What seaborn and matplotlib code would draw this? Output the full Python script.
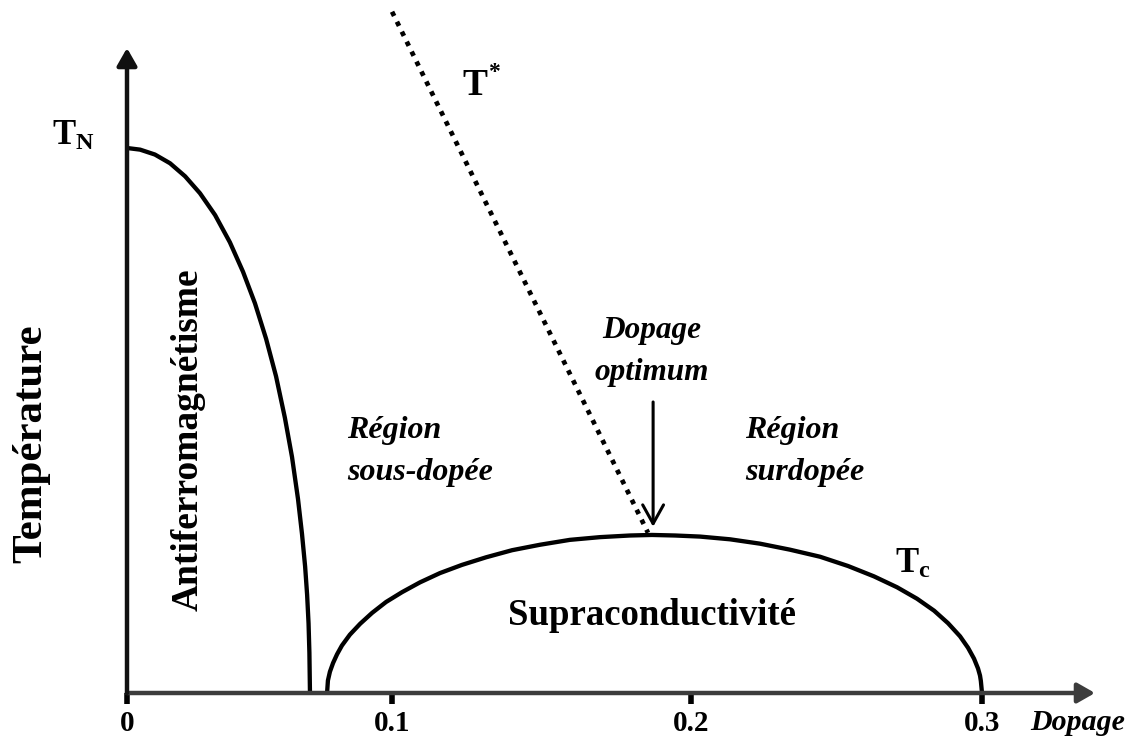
import matplotlib.pyplot as plt
from matplotlib.patches import ArrowStyle
import pandas as pd
import seaborn as sns

# Néel line T_N (antiferromagnetic dome), temperature in units of T_N
af_dopage = [0, 0.0046, 0.0098, 0.0151, 0.0204, 0.0256, 0.0309, 0.0361, 0.0407,
             0.0449, 0.0488, 0.0523, 0.0554, 0.0579, 0.0600, 0.0614, 0.0625,
             0.0632, 0.0637, 0.0640, 0.0642]
af_temp = [1.0, 0.997, 0.988, 0.972, 0.948, 0.917, 0.877, 0.827, 0.773,
           0.715, 0.650, 0.581, 0.505, 0.433, 0.356, 0.292, 0.232,
           0.180, 0.128, 0.074, 0.0]

# superconducting dome T_c
sc_dopage = [0.0702, 0.0705, 0.0712, 0.0723, 0.0737, 0.0754, 0.0782, 0.0818, 0.0860,
             0.0909, 0.0965, 0.1028, 0.1098, 0.1175, 0.1260, 0.1351, 0.1449, 0.1554,
             0.1660, 0.1765, 0.1842, 0.1923, 0.2011, 0.2116, 0.2221, 0.2326, 0.2432,
             0.2530, 0.2621, 0.2702, 0.2772, 0.2832, 0.2881, 0.2923, 0.2951, 0.2972,
             0.2986, 0.2993, 0.2996, 0.3000]
sc_temp = [0.0, 0.023, 0.039, 0.055, 0.071, 0.087, 0.107, 0.127, 0.147,
           0.167, 0.185, 0.203, 0.220, 0.235, 0.249, 0.262, 0.272, 0.281,
           0.286, 0.289, 0.290, 0.289, 0.287, 0.282, 0.274, 0.263, 0.250,
           0.233, 0.214, 0.194, 0.173, 0.151, 0.128, 0.104, 0.083, 0.063,
           0.045, 0.032, 0.022, 0.0]

# pseudogap line T*
tstar_dopage = [0.093, 0.1828]
tstar_temp = [1.250, 0.294]

# optimal doping marker
optimum_dopage = 0.1846
optimum_arrow_temp = [0.534, 0.305]

tick_pos = [0, 0.093, 0.198, 0.3]
tick_labels = ['0', '0.1', '0.2', '0.3']

W, H = 1137, 740


def px(x, y):
    # pixel position -> figure fraction
    return x / W, 1 - y / H


sns.set_theme(style='white')
plt.rcParams['font.family'] = ['Liberation Serif', 'DejaVu Serif']
plt.rcParams['font.weight'] = 'bold'
plt.rcParams['text.color'] = 'black'
plt.rcParams['xtick.color'] = 'black'
plt.rcParams['xtick.labelcolor'] = 'black'
plt.rcParams['mathtext.fontset'] = 'custom'
plt.rcParams['mathtext.rm'] = 'Liberation Serif'
plt.rcParams['mathtext.bf'] = 'Liberation Serif:bold'

fig = plt.figure(figsize=(W / 100, H / 100), dpi=100)
ax = fig.add_axes([127 / W, (H - 693) / H, (1095 - 127) / W, (693 - 48) / H])
ax.set_xlim(0, (1095 - 127) / 2850)
ax.set_ylim(0, (693 - 48) / 545)
for s in ax.spines.values():
    s.set_visible(False)

af_df = pd.DataFrame({'dopage': af_dopage, 'temp': af_temp})
sc_df = pd.DataFrame({'dopage': sc_dopage, 'temp': sc_temp})
ts_df = pd.DataFrame({'dopage': tstar_dopage, 'temp': tstar_temp})

sns.lineplot(data=af_df, x='dopage', y='temp', ax=ax, sort=False, estimator=None,
             color='black', lw=3.1, solid_capstyle='butt')
sns.lineplot(data=sc_df, x='dopage', y='temp', ax=ax, sort=False, estimator=None,
             color='black', lw=3.1, solid_capstyle='butt')
sns.lineplot(data=ts_df, x='dopage', y='temp', ax=ax, sort=False, estimator=None,
             color='black', lw=3.4, linestyle=(0, (1, 1.35)), dash_capstyle='butt',
             clip_on=False)

# arrow pointing to optimal doping
ax.annotate('', xy=(optimum_dopage, optimum_arrow_temp[1]),
            xytext=(optimum_dopage, optimum_arrow_temp[0]),
            arrowprops=dict(arrowstyle=ArrowStyle('->', head_length=0.9, head_width=0.5),
                            mutation_scale=15, lw=2.2, color='black',
                            shrinkA=0, shrinkB=0))

# axes drawn as arrows
head = ArrowStyle('-|>', head_length=0.7, head_width=0.4)
ax.annotate('', xy=(1, 0), xytext=(0, 0), xycoords='axes fraction',
            arrowprops=dict(arrowstyle=head, mutation_scale=15, lw=3.2,
                            color='#3c3c3c', shrinkA=0, shrinkB=0))
ax.annotate('', xy=(0, 1), xytext=(0, 0), xycoords='axes fraction',
            arrowprops=dict(arrowstyle=head, mutation_scale=15, lw=3.2,
                            color='#111111', shrinkA=0, shrinkB=0))

ax.set_xticks(tick_pos, labels=tick_labels)
ax.set_yticks([])
ax.tick_params(axis='x', length=8, width=4, color='black', labelcolor='black',
               direction='out', labelsize=21, pad=4, bottom=True)
ax.set_xlabel('')
ax.set_ylabel('')

# labels
fig.text(*px(52, 145), r'$\mathbf{T_N}$', fontsize=25, ha='left', va='baseline')
fig.text(*px(462, 95), 'T', fontsize=27, ha='left', va='baseline')
fig.text(*px(488, 78), '*', fontsize=17, ha='left', va='baseline')
fig.text(*px(895, 573), r'$\mathbf{T_c}$', fontsize=25, ha='left', va='baseline')
fig.text(*px(31, 444), 'Température', fontsize=31, rotation=90,
         ha='center', va='center')
fig.text(*px(188, 440), 'Antiferromagnétisme', fontsize=27, rotation=90,
         ha='center', va='center')
fig.text(*px(652, 625), 'Supraconductivité', fontsize=26.5, ha='center', va='baseline')
fig.text(*px(652, 338), 'Dopage', fontsize=22.5, style='italic', ha='center', va='baseline')
fig.text(*px(652, 380), 'optimum', fontsize=22.5, style='italic', ha='center', va='baseline')
fig.text(*px(347, 438), 'Région', fontsize=23, style='italic', ha='left', va='baseline')
fig.text(*px(347, 480), 'sous-dopée', fontsize=23, style='italic', ha='left', va='baseline')
fig.text(*px(745, 438), 'Région', fontsize=23, style='italic', ha='left', va='baseline')
fig.text(*px(745, 480), 'surdopée', fontsize=23, style='italic', ha='left', va='baseline')
fig.text(*px(1030, 730), 'Dopage', fontsize=21.5, style='italic', ha='left', va='baseline')

fig.savefig('out.png', dpi=100)
